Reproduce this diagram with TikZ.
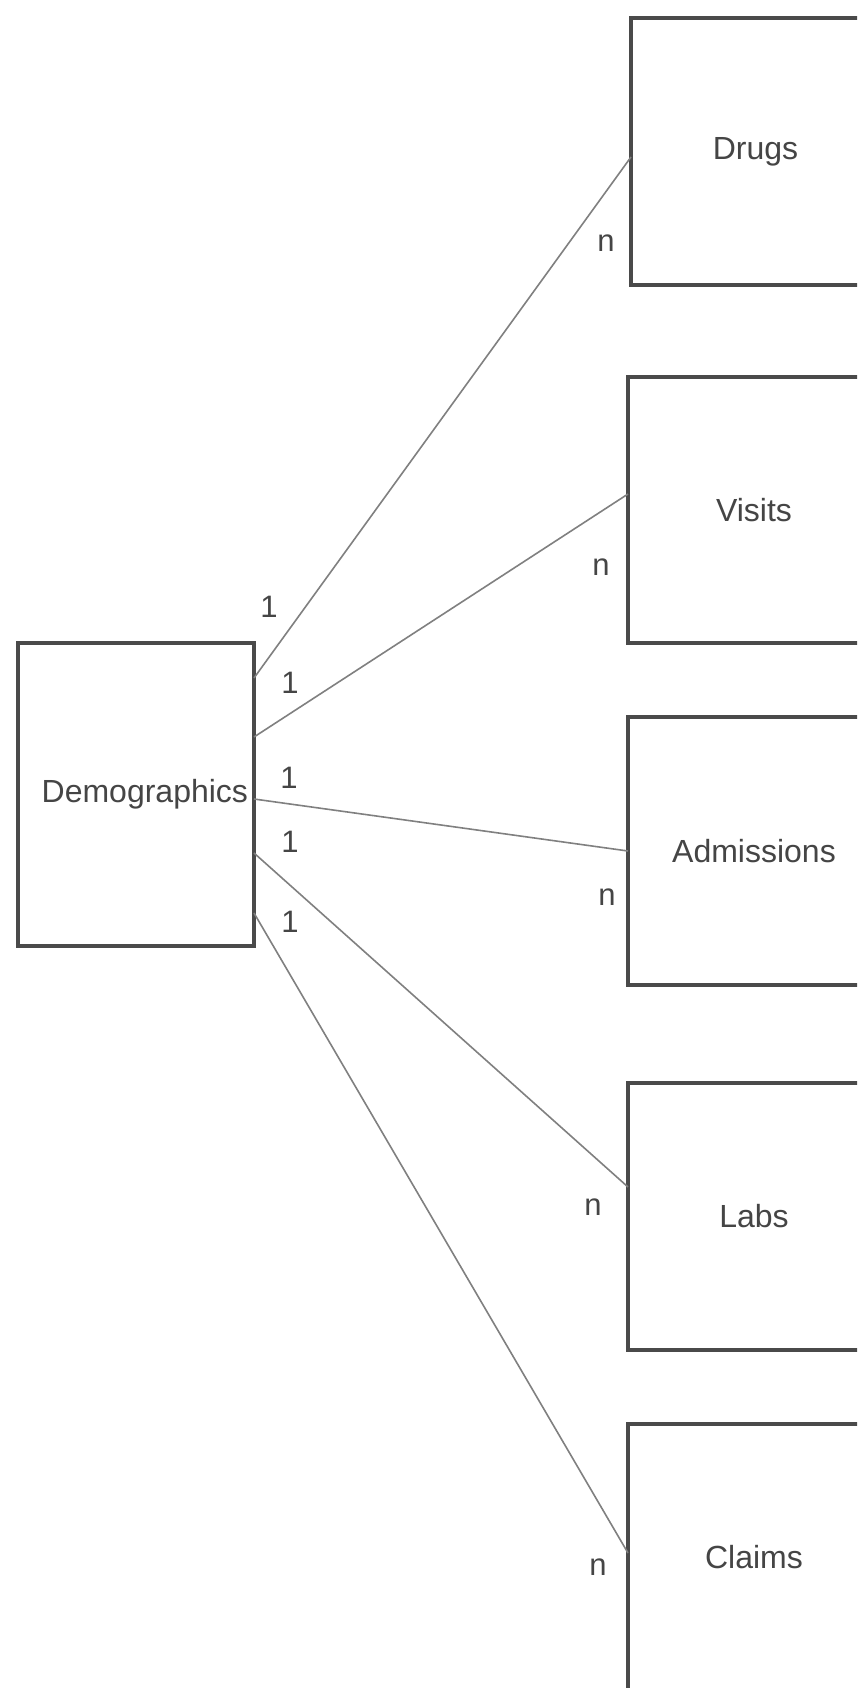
\documentclass[tikz,border=0pt]{standalone}
\usepackage{fontspec}
\setmainfont{Liberation Sans}
\definecolor{boxline}{HTML}{4A4A4A}
\definecolor{txt}{HTML}{454545}
\definecolor{conn}{HTML}{808080}
\begin{document}
\begin{tikzpicture}[x=1pt,y=-1pt,
  entity/.style={draw=boxline, line width=3.3pt, fill=white, inner sep=0pt, outer sep=0pt,
    text=txt, font=\fontsize{32}{38}\selectfont, minimum width=252pt},
  card/.style={text=txt, font=\fontsize{31}{36}\selectfont, inner sep=0pt},
  link/.style={draw=conn, line width=1.6pt}]
\useasboundingbox (0,0) rectangle (857,1688);
\clip (0,0) rectangle (857,1688);
\fill[white] (0,0) rectangle (857,1688);

\node[entity, minimum width=236pt, minimum height=303pt, text width=224pt, align=right] (demo) at (136,794.5) {Demographics};
\node[entity, minimum width=249pt, minimum height=267pt] (drugs) at (755.5,151.5) {Drugs};
\node[entity, minimum height=266pt] (visits) at (754,510) {Visits};
\node[entity, minimum height=268pt] (adm) at (754,851) {Admissions};
\node[entity, minimum height=267pt] (labs) at (754,1216.5) {Labs};
\node[entity, minimum height=266pt] (claims) at (754,1557) {Claims};

\draw[link] ([yshift=-35pt]demo.north east) -- ([yshift=-139pt]drugs.north west);
\draw[link] ([yshift=-94pt]demo.north east) -- ([yshift=-117pt]visits.north west);
\draw[link] ([yshift=-156pt]demo.north east) -- ([yshift=-134pt]adm.north west);
\draw[link] ([yshift=-210pt]demo.north east) -- ([yshift=-104pt]labs.north west);
\draw[link] ([yshift=-270pt]demo.north east) -- ([yshift=-129pt]claims.north west);

\node[card] (c1) at (269,607) {1};
\node[card] (c2) at (290,683) {1};
\node[card] (c3) at (289,778) {1};
\node[card] (c4) at (290,842) {1};
\node[card] (c5) at (290,922) {1};

\node[card] (n1) at (606,243) {n};
\node[card] (n2) at (601,567) {n};
\node[card] (n3) at (607,897) {n};
\node[card] (n4) at (593,1207) {n};
\node[card] (n5) at (598,1567) {n};
\end{tikzpicture}
\end{document}
